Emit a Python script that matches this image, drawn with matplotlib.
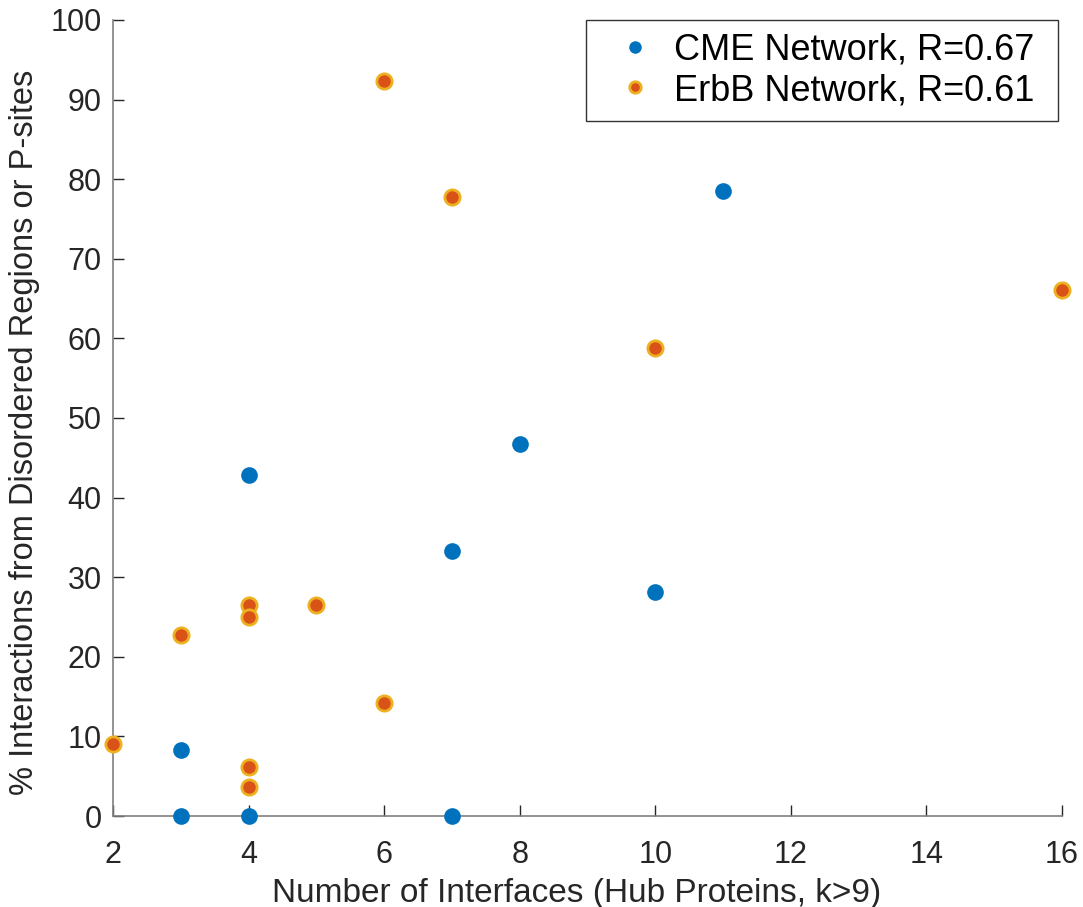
import matplotlib.pyplot as plt

plt.rcParams['font.family'] = ['Liberation Sans', 'DejaVu Sans']

# hub proteins: number of interfaces vs % interactions from disordered regions / P-sites
cme_x = [11, 8, 4, 7, 10, 3, 3, 4, 7]
cme_y = [78.5, 46.7, 42.9, 33.3, 28.1, 8.3, 0, 0, 0]

erbb_x = [6, 7, 16, 10, 4, 5, 4, 3, 6, 2, 4, 4]
erbb_y = [92.3, 77.7, 66.1, 58.8, 26.5, 26.5, 25.0, 22.7, 14.2, 9.1, 6.1, 3.6]

cme_label = "CME Network, R=0.67"
erbb_label = "ErbB Network, R=0.61"

fig = plt.figure(figsize=(10.83, 9.07), dpi=100)
ax = fig.add_axes([0.1043, 0.1003, 0.8763, 0.8777])

ax.plot(cme_x, cme_y, 'o', color='#0072BD', markersize=12, markeredgewidth=0,
        label=cme_label, clip_on=False, zorder=3)
ax.plot(erbb_x, erbb_y, 'o', markerfacecolor='#D95319', markeredgecolor='#EDB120',
        markersize=11, markeredgewidth=2, label=erbb_label, clip_on=False, zorder=3)

ax.set_xlim(2, 16)
ax.set_ylim(0, 100)
ax.set_xticks(range(2, 17, 2))
ax.set_yticks(range(0, 101, 10))

for side in ['top', 'right']:
    ax.spines[side].set_visible(False)
for side in ['left', 'bottom']:
    ax.spines[side].set_color('#808080')
    ax.spines[side].set_linewidth(1.2)

ax.tick_params(direction='in', length=8, width=1, color='#262626',
               labelsize=22, labelcolor='#262626', pad=8)
ax.tick_params(axis='x', pad=17)

ax.set_xlabel("Number of Interfaces (Hub Proteins, k>9)", fontsize=24,
              color='#262626')
ax.set_ylabel("% Interactions from Disordered Regions or P-sites", fontsize=23.5,
              color='#262626')
ax.xaxis.set_label_coords(0.489, -0.078)
ax.yaxis.set_label_coords(-0.077, 0.482)

# legend box spans a fixed width, entries sit to the left
leg = ax.legend(loc='upper left', bbox_to_anchor=(0.4984, 0.0, 0.4974, 1.0),
                mode='expand', borderaxespad=0,
                fontsize=26, markerscale=0.75, frameon=True, fancybox=False,
                borderpad=0.35, handlelength=2.0, handletextpad=0.1,
                labelspacing=0.15)
leg.get_frame().set_edgecolor('black')
leg.get_frame().set_linewidth(1)

fig.savefig("out.png", dpi=100)
